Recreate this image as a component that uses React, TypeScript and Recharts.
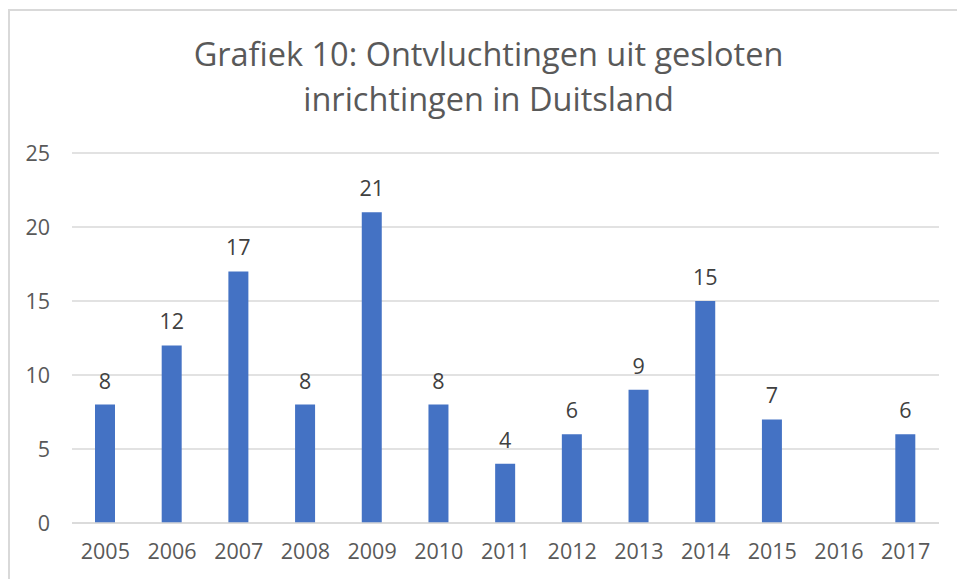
import React from "react"
import { BarChart, Bar, XAxis, YAxis, CartesianGrid, LabelList } from "recharts"

const years = ["2005", "2006", "2007", "2008", "2009", "2010", "2011", "2012", "2013", "2014", "2015", "2016", "2017"]
const escapes = [8, 12, 17, 8, 21, 8, 4, 6, 9, 15, 7, 0, 6]
const yTicks = [0, 5, 10, 15, 20, 25]

const data = years.map((year, i) => ({ year, value: escapes[i] }))

const font = "'Open Sans', sans-serif"

export default function App() {
  return (
    <div
      style={{
        position: "absolute",
        left: 8,
        top: 9,
        width: 960,
        height: 580,
        border: "2px solid #d9d9d9",
        background: "#fff",
        fontFamily: font,
        fontVariantLigatures: "none",
      }}
    >
      <div
        style={{
          position: "absolute",
          left: 0,
          top: 20,
          width: 957,
          textAlign: "center",
          fontSize: 32.5,
          lineHeight: "45px",
          color: "#595959",
        }}
      >
        Grafiek 10: Ontvluchtingen uit gesloten
        <br />
        inrichtingen in Duitsland
      </div>
      <div style={{ position: "absolute", left: 0, top: 0 }}>
        <BarChart
          width={947}
          height={568}
          data={data}
          margin={{ top: 142, right: 18, left: 22, bottom: 26 }}
        >
          <CartesianGrid vertical={false} stroke="#d9d9d9" strokeWidth={1.5} />
          <XAxis
            dataKey="year"
            axisLine={{ stroke: "#d9d9d9", strokeWidth: 1.5 }}
            tickLine={false}
            height={30}
            tick={{ fill: "#595959", fontSize: 21.5, fontFamily: font }}
            tickMargin={15}
            interval={0}
          />
          <YAxis
            domain={[0, 25]}
            ticks={yTicks}
            width={40}
            axisLine={false}
            tickLine={false}
            tick={{ fill: "#595959", fontSize: 21.5, fontFamily: font }}
            tickMargin={16}
          />
          <Bar dataKey="value" fill="#4472c4" barSize={20} isAnimationActive={false}>
            <LabelList
              dataKey="value"
              position="top"
              offset={16}
              fill="#404040"
              fontSize={21.5}
              fontFamily={font}
              formatter={(v: any) => (v ? v : "")}
            />
          </Bar>
        </BarChart>
      </div>
    </div>
  )
}
